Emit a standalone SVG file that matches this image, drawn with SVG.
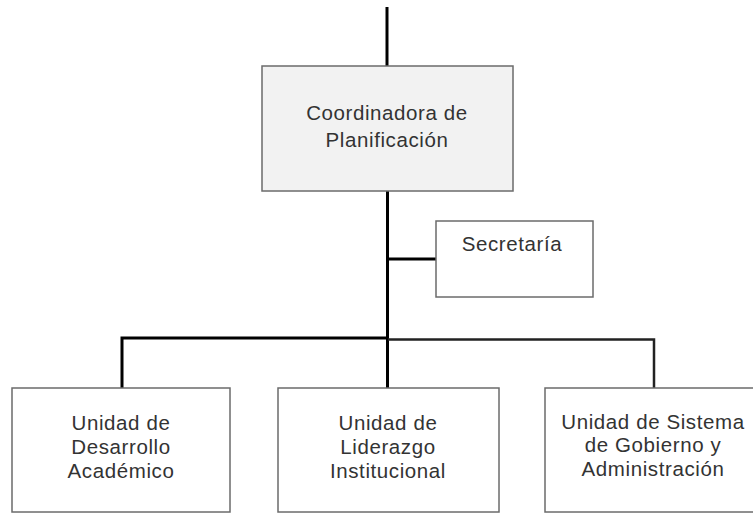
<svg xmlns="http://www.w3.org/2000/svg" width="753" height="513" viewBox="0 0 753 513">
<style>
.box{fill:#ffffff;stroke:#6b6b6b;stroke-width:1.5}
.main{fill:#f2f2f2;stroke:#6b6b6b;stroke-width:1.5}
.lbl{font-family:"Liberation Sans",Arial,sans-serif;font-size:20.5px;letter-spacing:0.6px;fill:#333333;text-anchor:middle}
.ln{stroke:#000000;stroke-width:3;fill:none}
.ln2{stroke:#222222;stroke-width:2.5;fill:none}
</style>
<rect width="753" height="513" fill="#ffffff"/>
<g id="connectors">
<line class="ln" x1="387" y1="7" x2="387" y2="66"/>
<line class="ln" x1="387.5" y1="191" x2="387.5" y2="388"/>
<line class="ln" x1="387" y1="259" x2="436" y2="259"/>
<polyline class="ln" points="122,388 122,338 388,338"/>
<polyline class="ln2" points="388,339.5 654,339.5 654,388"/>
</g>
<g id="coordinadora">
<rect class="main" x="262" y="66" width="251" height="125"/>
<text class="lbl" x="387" y="120">Coordinadora de</text>
<text class="lbl" x="387" y="147">Planificación</text>
</g>
<g id="secretaria">
<rect class="box" x="436" y="221" width="157" height="76"/>
<text class="lbl" x="512" y="251">Secretaría</text>
</g>
<g id="desarrollo">
<rect class="box" x="12" y="388" width="218" height="124"/>
<text class="lbl" x="121" y="430">Unidad de</text>
<text class="lbl" x="121" y="454">Desarrollo</text>
<text class="lbl" x="121" y="478">Académico</text>
</g>
<g id="liderazgo">
<rect class="box" x="278" y="388" width="221" height="124"/>
<text class="lbl" x="388" y="430">Unidad de</text>
<text class="lbl" x="388" y="454">Liderazgo</text>
<text class="lbl" x="388" y="478">Institucional</text>
</g>
<g id="gobierno">
<rect class="box" x="545" y="388" width="216" height="124"/>
<text class="lbl" x="653" y="429">Unidad de Sistema</text>
<text class="lbl" x="653" y="452">de Gobierno y</text>
<text class="lbl" x="653" y="476">Administración</text>
</g>
</svg>
